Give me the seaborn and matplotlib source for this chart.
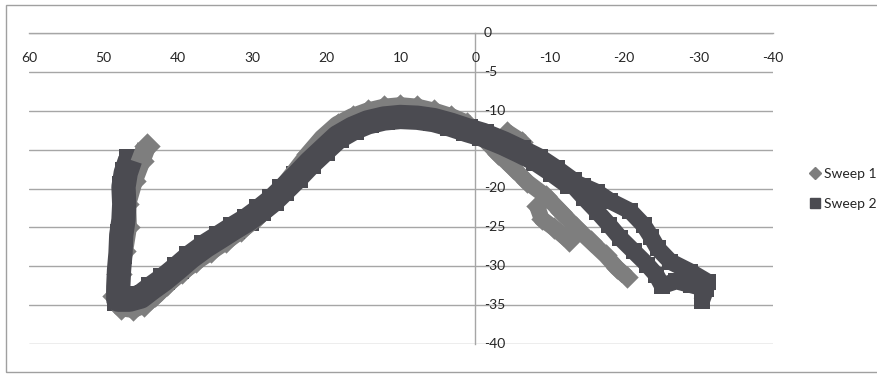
import pandas as pd
import matplotlib.pyplot as plt
from matplotlib.lines import Line2D
from matplotlib.patches import Rectangle
import seaborn as sns

# Sweep 1 (light grey), one list per stroke
sweep1_x = [44.2, 45.0, 46.0, 46.9, 46.8, 47.3, 47.9, 48.4, 47.6, 46.0, 44.5, 43.0,
            41.5, 39.5, 37.5, 35.5, 33.5, 31.5, 29.5, 27.5, 25.8, 24.0, 22.3, 20.5,
            18.5, 16.5, 14.5, 12.3, 10.1, 7.8, 5.6, 3.3, 1.1]
sweep1_y = [-14.5, -16.5, -19.0, -22.0, -25.0, -28.0, -31.0, -33.8, -35.2, -35.4, -34.8, -33.6,
            -32.2, -30.6, -29.2, -27.9, -26.6, -25.2, -23.7, -21.9, -19.9, -17.7, -15.6, -13.6,
            -11.9, -10.9, -10.2, -9.7, -9.5, -9.7, -10.2, -10.9, -11.8]
sweep1_tail_x = [1.1, -1.0, -3.0, -5.0, -7.0, -9.5, -11.5, -13.5, -15.5, -17.5, -19.0, -20.4]
sweep1_tail_y = [-11.8, -13.5, -15.5, -17.3, -19.2, -21.0, -23.0, -25.0, -26.8, -28.6, -30.2, -31.4]
sweep1_top_x = [-4.2, -6.3]
sweep1_top_y = [-12.7, -14.0]
sweep1_bit_x = [-8.3, -8.9, -10.6, -12.6]
sweep1_bit_y = [-22.3, -23.9, -25.1, -26.7]

# Sweep 2 (dark grey)
sweep2_x = [46.4, 47.0, 47.3, 47.2, 47.3, 47.6, 47.7, 47.9, 48.0, 48.0, 46.5, 45.0,
            43.5, 41.9, 40.0, 38.3, 36.3, 34.3, 32.5, 30.6, 28.9, 27.2, 25.8, 24.0,
            22.2, 20.3, 18.5, 16.5, 14.5, 12.3, 10.1, 7.8, 5.6, 3.3, 1.1, -1.0,
            -3.8, -6.0, -8.3, -10.5, -12.8]
sweep2_y = [-16.3, -18.0, -19.8, -22.0, -24.0, -26.0, -28.3, -30.5, -32.6, -34.3, -34.3, -33.9,
            -32.8, -31.7, -30.2, -28.8, -27.4, -26.2, -25.1, -24.0, -22.8, -21.5, -20.2, -18.5,
            -16.7, -15.0, -13.4, -12.3, -11.5, -11.0, -10.8, -10.9, -11.2, -11.8, -12.5, -13.1,
            -14.2, -15.2, -16.3, -17.7, -19.3]
sweep2_low_x = [-12.8, -14.6, -16.4, -18.0, -19.5, -21.3, -23.1, -24.3, -25.1, -27.0, -29.0,
                -31.0, -30.4]
sweep2_low_y = [-19.3, -21.2, -23.0, -24.7, -26.4, -28.1, -29.8, -31.1, -32.5, -31.9, -32.4,
                -32.9, -34.5]
sweep2_up_x = [-12.8, -14.5, -16.4, -18.1, -20.8, -22.6, -23.6, -24.5, -26.2, -28.9, -31.2]
sweep2_up_y = [-19.0, -19.7, -20.5, -21.6, -22.9, -24.7, -26.2, -27.7, -29.4, -30.7, -32.0]

x_ticks = [60, 50, 40, 30, 20, 10, 0, -10, -20, -30, -40]
y_ticks = [0, -5, -10, -15, -20, -25, -30, -35, -40]


def strokes(parts):
    rows = []
    for k, (xs, ys) in enumerate(parts):
        for a, b in zip(xs, ys):
            rows.append({'x': a, 'y': b, 'seg': k})
    return pd.DataFrame(rows)


def band(ax, df, color, width, marker, msize):
    sns.lineplot(data=df, x='x', y='y', units='seg', estimator=None, sort=False,
                 color=color, linewidth=width, solid_joinstyle='round',
                 solid_capstyle='butt', ax=ax, legend=False)
    sns.scatterplot(data=df, x='x', y='y', marker=marker, s=msize, color=color,
                    linewidth=0, ax=ax, legend=False)


sns.set_style('white')
plt.rcParams['font.family'] = ['Lato', 'DejaVu Sans']

c1 = '#7e7e7e'
c2 = '#4b4b51'
grid_c = '#a6a6a6'

fig = plt.figure(figsize=(8.77, 3.74), dpi=100)
ax = fig.add_axes([29 / 877, 30 / 374, 744 / 877, 311 / 374])

# light sweep first, dark one on top
band(ax, strokes([(sweep1_x, sweep1_y)]), c1, 14, 'D', 180)
band(ax, strokes([(sweep1_tail_x, sweep1_tail_y), (sweep1_top_x, sweep1_top_y),
                  (sweep1_bit_x, sweep1_bit_y)]), c1, 11.5, 'D', 130)
band(ax, strokes([(sweep2_x, sweep2_y)]), c2, 17.5, 's', 270)
band(ax, strokes([(sweep2_low_x, sweep2_low_y), (sweep2_up_x, sweep2_up_y)]),
     c2, 12, 's', 140)

ax.set_xlim(60, -40)
ax.set_ylim(-40, 0)
ax.set_xlabel('')
ax.set_ylabel('')

# axes cross at the origin, Excel style
for side in ['top', 'right']:
    ax.spines[side].set_visible(False)
ax.spines['left'].set_position(('data', 0))
ax.spines['bottom'].set_position(('data', 0))
for side in ['left', 'bottom']:
    ax.spines[side].set_color(grid_c)
    ax.spines[side].set_linewidth(1)
    ax.spines[side].set_zorder(0.5)

ax.set_xticks(x_ticks)
ax.set_xticklabels([str(v) for v in x_ticks])
ax.set_yticks(y_ticks)
ax.set_yticklabels([str(v) for v in y_ticks])
ax.tick_params(axis='x', direction='out', length=3.5, width=1, color=grid_c,
               pad=10, labelsize=10, labelcolor='#262626')
ax.tick_params(axis='y', direction='out', length=3.5, width=1, color=grid_c,
               pad=-9.5, labelsize=10, labelcolor='#262626')
for lab in ax.get_yticklabels():
    lab.set_horizontalalignment('left')
    lab.set_verticalalignment('center')

ax.yaxis.grid(True, color=grid_c, linewidth=1)
ax.xaxis.grid(False)
ax.set_axisbelow(True)

handles = [
    Line2D([], [], marker='D', linestyle='none', color=c1, markersize=6.5),
    Line2D([], [], marker='s', linestyle='none', color=c2, markersize=7),
]
fig.legend(handles, ['Sweep 1', 'Sweep 2'], loc='center left',
           bbox_to_anchor=(802 / 877, 1 - 189 / 374), frameon=False,
           fontsize=10, handlelength=0.8, handletextpad=0.3, labelspacing=1.3,
           borderpad=0)

# outer chart border
fig.patches.append(Rectangle((6 / 877, 2 / 374), 1.2, 367 / 374, transform=fig.transFigure,
                             fill=False, edgecolor='#a0a0a0', linewidth=1))

fig.savefig('out.png', dpi=100)
